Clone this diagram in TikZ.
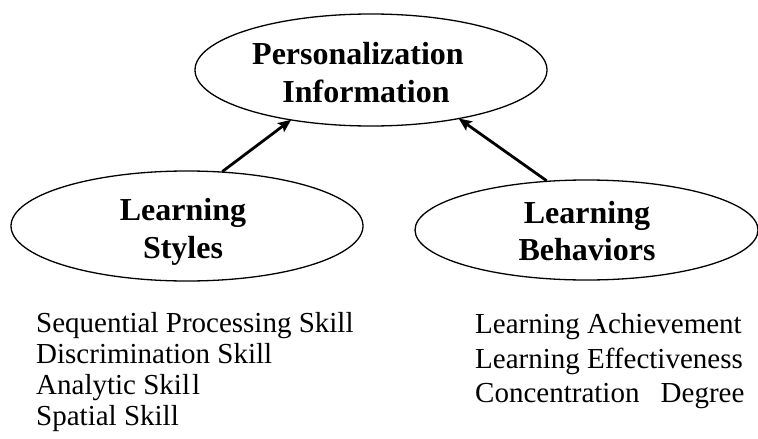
\documentclass[tikz,border=0pt]{standalone}
\usepackage{fontspec}
\setmainfont{Liberation Serif}
\usetikzlibrary{shapes.geometric,arrows.meta}
\begin{document}
\begin{tikzpicture}[x=1pt,y=-1pt,
  concept/.style={draw, ellipse, line width=1.3pt, inner sep=0pt},
  title/.style={anchor=base, inner sep=0pt, font=\fontsize{32}{38}\selectfont\bfseries},
  link/.style={line width=2.8pt, -{Stealth[length=13pt,width=11pt,inset=2.5pt]}, shorten >=-1pt},
  item/.style={anchor=base west, inner sep=0pt, font=\fontsize{29}{31}\selectfont}
]
\useasboundingbox (0,0) rectangle (758,439);
\clip (0,0) rectangle (758,439);

% concept ellipses
\node[concept, minimum width=352pt, minimum height=112pt] (pi) at (371,70) {};
\node[concept, minimum width=352pt, minimum height=110pt] (ls) at (187,226) {};
\node[concept, minimum width=343pt, minimum height=100pt] (lb) at (586.5,230) {};

% concept titles
\node[title] (pi1) at (358,64) {Personalization};
\node[title] (pi2) at (366,102) {Information};
\node[title] (ls1) at (183,220) {Learning};
\node[title] (ls2) at (183,258) {Styles};
\node[title] (lb1) at (587,223) {Learning};
\node[title] (lb2) at (587,260) {Behaviors};

% arrows into the top concept
\draw[link] (ls.57) -- (pi.212);
\draw[link] (lb.129) -- (pi.331);

% attributes of learning styles
\node[item] (s1) at (36,332) {Sequential Processing Skill};
\node[item] (s2) at (36,363) {Discrimination Skill};
\node[item] (s3) at (36,394) {Analytic Skil\kern2pt l};
\node[item] (s4) at (36,425) {Spatial Skill};

% attributes of learning behaviors
\node[item] (b1) at (475,333) {Learning Achievement};
\node[item] (b2) at (475,368) {Learning Effectiveness};
\node[item] (b3) at (475,402) {Concentration\hspace{14pt} Degree};
\end{tikzpicture}
\end{document}
